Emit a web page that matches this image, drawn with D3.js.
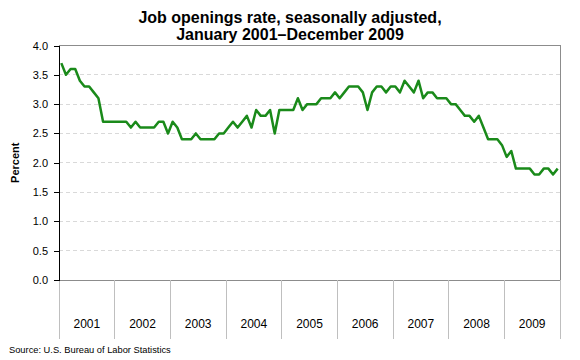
<!DOCTYPE html>
<html><head><meta charset="utf-8">
<script src="https://cdn.jsdelivr.net/npm/d3@7/dist/d3.min.js"></script>
<style>body{margin:0;background:#fff}svg{display:block}</style>
</head><body><svg id="c" width="580" height="360"></svg>
<script>
const years = ["2001","2002","2003","2004","2005","2006","2007","2008","2009"];
const rate2001 = [3.7,3.5,3.6,3.6,3.4,3.3,3.3,3.2,3.1,2.7,2.7,2.7];
const rate2002 = [2.7,2.7,2.7,2.6,2.7,2.6,2.6,2.6,2.6,2.7,2.7,2.5];
const rate2003 = [2.7,2.6,2.4,2.4,2.4,2.5,2.4,2.4,2.4,2.4,2.5,2.5];
const rate2004 = [2.6,2.7,2.6,2.7,2.8,2.6,2.9,2.8,2.8,2.9,2.5,2.9];
const rate2005 = [2.9,2.9,2.9,3.1,2.9,3.0,3.0,3.0,3.1,3.1,3.1,3.2];
const rate2006 = [3.1,3.2,3.3,3.3,3.3,3.2,2.9,3.2,3.3,3.3,3.2,3.3];
const rate2007 = [3.3,3.2,3.4,3.3,3.2,3.4,3.1,3.2,3.2,3.1,3.1,3.1];
const rate2008 = [3.0,3.0,2.9,2.8,2.8,2.7,2.8,2.6,2.4,2.4,2.4,2.3];
const rate2009 = [2.1,2.2,1.9,1.9,1.9,1.9,1.8,1.8,1.9,1.9,1.8,1.9];
const yTicks = [0,0.5,1.0,1.5,2.0,2.5,3.0,3.5,4.0];
const titleLines = ["Job openings rate, seasonally adjusted,","January 2001\u2013December 2009"];
const yTitle = "Percent";
const source = "Source: U.S. Bureau of Labor Statistics";

const rates = [].concat(rate2001,rate2002,rate2003,rate2004,rate2005,rate2006,rate2007,rate2008,rate2009);
const FONT = "'Liberation Sans', Arial, sans-serif";
const L = 59, R = 560, T = 45.5, B = 280;
const svg = d3.select("#c").style("font-family", FONT);

const x = d3.scaleLinear().domain([0, rates.length]).range([L, R]);
const xb = d3.scaleBand().domain(years).range([L, R]);
const y = d3.scaleLinear().domain([0, 4]).range([B, T]);

// gridlines
svg.append("g").selectAll("line").data(yTicks.filter(d => d > 0 && d < 4)).join("line")
  .attr("x1", L).attr("x2", R).attr("y1", d => y(d)).attr("y2", d => y(d))
  .attr("stroke", "#d9d9d9").attr("stroke-width", 1).attr("stroke-dasharray", "4,3")
  .attr("shape-rendering", "crispEdges");

// plot border (top, right, bottom)
svg.append("path")
  .attr("d", `M${L},${y(4)}H${R}V${B}H${L}`)
  .attr("fill", "none").attr("stroke", "#8c8c8c").attr("stroke-width", 1)
  .attr("shape-rendering", "crispEdges");

// year separators
const sep = years.map(d => xb(d)).concat([R]);
svg.append("g").selectAll("line").data(sep).join("line")
  .attr("x1", d => d).attr("x2", d => d).attr("y1", B).attr("y2", 339)
  .attr("stroke", "#bfbfbf").attr("stroke-width", 1).attr("shape-rendering", "crispEdges");

svg.append("g").selectAll("text").data(years).join("text")
  .attr("x", d => xb(d) + xb.bandwidth() / 2).attr("y", 328)
  .attr("text-anchor", "middle").attr("font-size", 12).attr("fill", "#000")
  .text(d => d);

// y axis
const ya = svg.append("g").attr("transform", `translate(${L},0)`)
  .call(d3.axisLeft(y).tickValues(yTicks).tickFormat(d3.format(".1f")).tickSize(5).tickPadding(6));
ya.select(".domain").attr("stroke", "#000").attr("shape-rendering", "crispEdges");
ya.selectAll(".tick line").attr("stroke", "#000").attr("shape-rendering", "crispEdges");
ya.selectAll(".tick text").attr("font-size", 11).attr("font-family", FONT).attr("fill", "#000");

// line
svg.append("path").datum(rates)
  .attr("d", d3.line().x((d, i) => x(i + 0.5)).y(d => y(d)))
  .attr("fill", "none").attr("stroke", "#1a8a1a").attr("stroke-width", 2.5)
  .attr("stroke-linejoin", "round");

// titles
svg.append("g").selectAll("text").data(titleLines).join("text")
  .attr("x", 290).attr("y", (d, i) => 23 + i * 16.5)
  .attr("text-anchor", "middle").attr("font-size", 16).attr("font-weight", "bold")
  .text(d => d);

svg.append("text").attr("transform", `translate(19,${(T + B) / 2}) rotate(-90)`)
  .attr("text-anchor", "middle").attr("font-size", 11).attr("font-weight", "bold")
  .text(yTitle);

svg.append("text").attr("x", 9).attr("y", 353).attr("font-size", 9.3).text(source);
</script></body></html>
